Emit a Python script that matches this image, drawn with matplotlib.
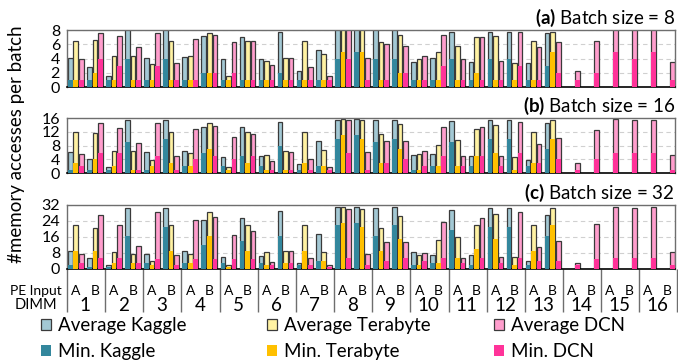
import numpy as np
import matplotlib

matplotlib.use('Agg')
import matplotlib.pyplot as plt
import matplotlib.transforms as mtransforms
from matplotlib.patches import Patch

plt.rcParams['font.family'] = ['Lato', 'DejaVu Sans']
plt.rcParams['mathtext.fontset'] = 'custom'
plt.rcParams['mathtext.rm'] = 'Lato'
plt.rcParams['mathtext.bf'] = 'Lato:bold'

nan = np.nan
dimms = [str(i) for i in range(1, 17)]
pe_inputs = ['A', 'B']
batch_sizes = [8, 16, 32]
panel_tags = ['(a)', '(b)', '(c)']
y_ticks = [[0, 2, 4, 6, 8], [0, 4, 8, 12, 16], [0, 8, 16, 24, 32]]

# batch size 8
avg_kaggle_8 = [4.05, 2.9, 1.6, 8.2, 4.1, 8.2, 4.2, 7.2, 3.9, 7.0, 3.9, 7.7, 2.3, 5.2, 8.2, 8.2,
                8.2, 8.2, 3.6, 4.1, 7.7, 3.5, 7.8, 7.8, 3.4, 7.6] + [nan] * 6
min_kaggle_8 = [1, 1, 1, 4, 1, 4, 1, 2, 1, 1, 1, 2, 1, 1, 4, 5, 4, 4, 1, 1, 4, 1, 4, 4, 1, 3] + [nan] * 6
avg_tera_8 = [6.5, 6.6, 4.4, 4.4, 3.3, 6.5, 4.4, 7.6, 1.6, 6.5, 3.7, 4.1, 6.5, 4.7, 8.2, 8.2,
              6.4, 7.4, 4.0, 5.0, 5.8, 7.0, 7.2, 3.4, 6.5, 7.8] + [nan] * 6
min_tera_8 = [1, 2, 1, 1, 1, 1, 1, 2, 1, 1, 1, 1, 1, 1, 5, 5, 1, 2, 1, 1, 1, 2, 1, 1, 1, 5] + [nan] * 6
avg_dcn_8 = [3.9, 7.6, 7.2, 5.7, 7.6, 3.4, 6.8, 7.3, 6.3, 6.5, 3.1, 4.1, 2.9, 1.6, 8.2, 4.1,
             6.0, 5.8, 4.4, 7.3, 3.9, 7.0, 3.7, 7.7, 5.6, 6.3, 2.25, 6.5, 8.2, 8.2, 8.2, 3.6]
min_dcn_8 = [1, 4, 3, 1, 3, 1, 1, 2, 2, 1, 1, 1, 1, 1, 4, 1, 1, 2, 1, 3, 1, 1, 1, 3, 1, 2, 1, 2, 5, 4, 5, 1]

# batch size 16
avg_kaggle_16 = [6.1, 4.1, 1.8, 15.5, 6.1, 15.5, 6.3, 13.5, 4.8, 13.3, 5.1, 15.0, 2.8, 9.2, 15.5, 15.7,
                 15.5, 15.5, 5.3, 5.5, 15.2, 5.0, 15.5, 15.5, 3.8, 14.5] + [nan] * 6
min_kaggle_16 = [1, 1, 1, 9, 1, 10, 2, 6, 2, 5, 2, 8, 1, 2, 10, 11, 9, 10, 1, 2, 9, 2, 10, 10, 2, 7] + [nan] * 6
avg_tera_16 = [12.0, 11.8, 6.3, 6.3, 3.8, 12.0, 6.0, 14.7, 1.7, 12.1, 5.3, 6.3, 12.0, 6.6, 15.7, 15.5,
               11.5, 14.3, 5.5, 8.3, 9.7, 12.8, 14.0, 4.8, 12.0, 15.5] + [nan] * 6
min_tera_16 = [3, 4, 2, 1, 2, 3, 2, 7, 1, 3, 1, 1, 3, 2, 11, 10, 3, 7, 1, 2, 2, 5, 6, 1, 3, 10] + [nan] * 6
avg_dcn_16 = [5.5, 14.7, 13.1, 8.7, 14.7, 5.0, 12.8, 13.8, 10.5, 11.5, 3.6, 6.1, 4.1, 1.8, 15.5, 6.1,
              9.3, 9.2, 6.3, 13.5, 4.9, 13.3, 5.0, 15.0, 8.5, 10.2, 2.9, 12.4, 15.7, 15.5, 15.5, 5.3]
min_dcn_16 = [2, 6, 6, 1, 5, 1, 4, 5, 4, 5, 1, 1, 1, 1, 6, 1, 3, 4, 2, 5, 2, 5, 2, 6, 3, 4, 1, 4, 6, 6, 6, 1]

# batch size 32
avg_kaggle_32 = [9.1, 5.6, 2.0, 30.2, 7.5, 30.2, 8.8, 24.2, 5.8, 25.2, 6.6, 28.7, 3.2, 17.2, 30.7, 31.0,
                 30.2, 30.7, 8.3, 7.0, 29.4, 7.0, 30.2, 30.2, 4.0, 26.9] + [nan] * 6
min_kaggle_32 = [2, 1, 1, 16.6, 3, 20.7, 3, 12, 3, 13.8, 3, 16.6, 2, 4, 21.7, 23,
                 16.6, 21.7, 2, 3, 19.6, 2, 20.7, 20.7, 2, 16.6] + [nan] * 6
avg_tera_32 = [21.9, 20.4, 8.3, 7.5, 4.0, 21.9, 7.5, 28.2, 1.8, 21.9, 8.5, 9.0, 21.9, 8.6, 30.7, 29.8,
               20.4, 26.5, 7.0, 14.3, 15.8, 21.9, 27.4, 6.1, 21.9, 30.2] + [nan] * 6
min_tera_32 = [9, 9, 3, 3, 2, 9, 3, 16.6, 1, 9, 2, 3, 9, 4, 23, 21,
               9, 15, 2, 3, 5.6, 10, 15, 2, 9, 21.9] + [nan] * 6
avg_dcn_32 = [7.5, 27.0, 21.9, 11.6, 28.2, 7.0, 24.2, 26.0, 16.7, 18.7, 3.6, 9.0, 5.6, 1.8, 29.8, 7.5,
              13.4, 13.4, 7.8, 23.5, 5.6, 25.2, 6.1, 28.5, 11.1, 13.8, 3.2, 22.6, 31.0, 30.2, 30.7, 8.5]
min_dcn_32 = [3, 5.6, 5.6, 3, 4.8, 2, 4.8, 4.8, 4.8, 4.8, 2, 3, 2, 1, 5.6, 2,
              4, 5.6, 4, 5.6, 3, 5.6, 3, 5.6, 4, 4, 2, 4.8, 5.6, 5.6, 5.6, 2]

panels = [
    [(avg_kaggle_8, min_kaggle_8), (avg_tera_8, min_tera_8), (avg_dcn_8, min_dcn_8)],
    [(avg_kaggle_16, min_kaggle_16), (avg_tera_16, min_tera_16), (avg_dcn_16, min_dcn_16)],
    [(avg_kaggle_32, min_kaggle_32), (avg_tera_32, min_tera_32), (avg_dcn_32, min_dcn_32)],
]

names = ['Kaggle', 'Terabyte', 'DCN']
avg_colors = ['#A3C8D4', '#FFF2A3', '#FF9ECD']
min_colors = ['#33879D', '#FFC000', '#FF3399']
edge = '#3A3A3A'

fig = plt.figure(figsize=[6.78, 3.6], dpi=100)
boxes = [[0.0988, 0.758, 0.897, 0.158],
         [0.0988, 0.519, 0.897, 0.153],
         [0.0988, 0.253, 0.897, 0.178]]

x = np.arange(len(dimms) * len(pe_inputs))
offsets = [-0.29, 0.0, 0.29]
width = 0.24

axes = []
for p, box in enumerate(boxes):
    ax = fig.add_axes(box)
    axes.append(ax)
    for s in range(3):
        avg, mn = panels[p][s]
        ax.bar(x + offsets[s], avg, width, color=avg_colors[s], edgecolor=edge, linewidth=0.9, zorder=2)
        ax.bar(x + offsets[s], mn, width, color=min_colors[s], linewidth=0, zorder=3)
    ax.set_xlim(-0.46, 31.42)
    ax.set_ylim(0, batch_sizes[p])
    ax.set_yticks(y_ticks[p])
    ax.tick_params(axis='y', length=0, pad=5, labelsize=11.5)
    ax.set_xticks([])
    ax.yaxis.grid(True, linestyle=(0, (4, 3)), color='#D0D0D0', linewidth=0.8, zorder=0)
    ax.set_axisbelow(True)
    for side in ['top', 'left', 'right']:
        ax.spines[side].set_color('#6E6E6E')
        ax.spines[side].set_linewidth(1.0)
    ax.spines['bottom'].set_color('black')
    ax.spines['bottom'].set_linewidth(1.2)
    ax.text(1.0, 1.02, r'$\mathbf{%s}$ Batch size = %d' % (panel_tags[p], batch_sizes[p]),
            transform=ax.transAxes, ha='right', va='bottom', fontsize=13.5)

# x labels below the last panel
ax = axes[-1]
trans = mtransforms.blended_transform_factory(ax.transData, ax.transAxes)
sep = np.arange(0, len(dimms) + 1) * 2 - 0.46
ax.vlines(sep, -0.68, 0, transform=trans, color='#6E6E6E', linewidth=1.0, clip_on=False)
for i in x:
    ax.text(i, -0.34, pe_inputs[i % 2], transform=trans, ha='center', va='center', fontsize=10)
for d in range(len(dimms)):
    ax.text(2 * d + 0.5, -0.57, dimms[d], transform=trans, ha='center', va='center', fontsize=13.5)
fig.text(36 / 678, 1 - 291 / 360, 'PE Input', ha='center', va='center', fontsize=10)
fig.text(36 / 678, 1 - 305 / 360, 'DIMM', ha='center', va='center', fontsize=10.5)

fig.text(0.025, 0.6, '#memory accesses per batch', rotation=90, ha='center', va='center', fontsize=13.5)

# legend: one column per dataset
legend_x = [41 / 678, 267 / 678, 494 / 678]
for s in range(3):
    handles = [Patch(facecolor=avg_colors[s], edgecolor=edge, linewidth=0.9, label='Average ' + names[s]),
               Patch(facecolor=min_colors[s], edgecolor='none', label='Min. ' + names[s])]
    fig.legend(handles=handles, loc='upper left', bbox_to_anchor=(legend_x[s], 1 - 317 / 360),
               frameon=False, fontsize=13.5, handlelength=0.55, handleheight=0.55, handletextpad=0.35,
               labelspacing=0.5, borderpad=0.0, borderaxespad=0.0)

fig.savefig('out.png', dpi=100)
